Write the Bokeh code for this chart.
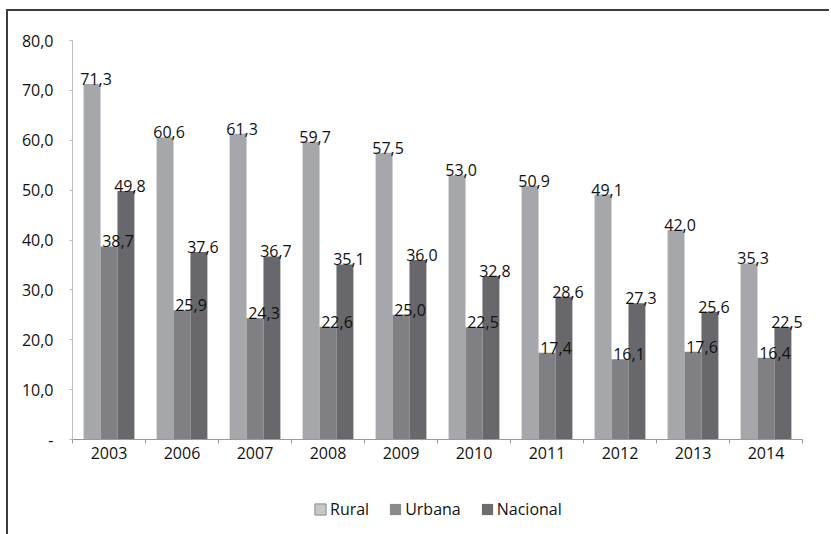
from bokeh.plotting import figure
from bokeh.layouts import column
from bokeh.models import ColumnDataSource, Range1d, FixedTicker, Legend, LegendItem
from bokeh.core.properties import value
from bokeh.embed import file_html
from bokeh.resources import INLINE

years = ["2003", "2006", "2007", "2008", "2009", "2010", "2011", "2012", "2013", "2014"]
rural = [71.3, 60.6, 61.3, 59.7, 57.5, 53.0, 50.9, 49.1, 42.0, 35.3]
urbana = [38.7, 25.9, 24.3, 22.6, 25.0, 22.5, 17.4, 16.1, 17.6, 16.4]
nacional = [49.8, 37.6, 36.7, 35.1, 36.0, 32.8, 28.6, 27.3, 25.6, 22.5]
y_ticks = [0, 10, 20, 30, 40, 50, 60, 70, 80]
y_tick_labels = ["-", "10,0", "20,0", "30,0", "40,0", "50,0", "60,0", "70,0", "80,0"]
series_names = ["Rural", "Urbana", "Nacional"]

FONT = "Open Sans"
FS = "16px"
W = 821

p = figure(width=W, height=469, output_backend="svg", toolbar_location=None,
           x_range=Range1d(0, len(years)), y_range=Range1d(0, 80),
           min_border_left=64, min_border_top=29, min_border_right=27, min_border_bottom=41)
p.outline_line_color = None
p.grid.visible = False

centers = [i + 0.5 for i in range(len(years))]
series = [(rural, "#a6a7aa", -0.232, 4),
          (urbana, "#808084", 0.0, 9),
          (nacional, "#68686c", 0.232, 4)]
for vals, color, off, xoff in series:
    src = ColumnDataSource(dict(x=[c + off for c in centers], top=vals))
    p.vbar(x="x", top="top", width=0.232, source=src, fill_color=color, line_color=None)
for vals, color, off, xoff in series:
    src = ColumnDataSource(dict(x=[c + off for c in centers], top=vals,
                                lab=[f"{v:.1f}".replace(".", ",") for v in vals]))
    p.text(x="x", y="top", text="lab", source=src, text_font=value(FONT),
           text_font_size=FS, text_color="#111111", text_align="center",
           text_baseline="bottom", x_offset=xoff, y_offset=1)

# y axis
ya = p.yaxis[0]
ya.ticker = FixedTicker(ticks=y_ticks)
ya.major_label_overrides = {t: l for t, l in zip(y_ticks, y_tick_labels)}
ya.axis_line_color = "#bdbdbd"
ya.major_tick_line_color = "#bdbdbd"
ya.major_tick_out = 3
ya.major_tick_in = 0
ya.minor_tick_out = 0
ya.minor_tick_in = 0
ya.major_label_standoff = 16
ya.major_label_text_font = FONT
ya.major_label_text_font_size = FS
ya.major_label_text_color = "#111111"

# x axis
xa = p.xaxis[0]
xa.ticker = FixedTicker(ticks=centers, minor_ticks=list(range(len(years) + 1)))
xa.major_label_overrides = {c: y for c, y in zip(centers, years)}
xa.axis_line_color = "#9a9a9a"
xa.major_tick_out = 0
xa.major_tick_in = 0
xa.minor_tick_out = 4
xa.minor_tick_in = 0
xa.minor_tick_line_color = "#9a9a9a"
xa.major_label_standoff = 3
xa.major_label_text_font = FONT
xa.major_label_text_font_size = FS
xa.major_label_text_color = "#111111"

# legend figure (swatch renderers are zero-width, invisible)
lf = figure(width=W, height=54, output_backend="svg", toolbar_location=None,
            min_border=0, min_border_left=0, min_border_right=0,
            min_border_top=0, min_border_bottom=0,
            x_axis_location=None, y_axis_location=None,
            x_range=Range1d(0, 1), y_range=Range1d(0, 1))
lf.grid.visible = False
lf.outline_line_color = None
swatch_styles = [("#c8c8c8", "#8a8a8a"), ("#8a8a8a", None), ("#6c6c6c", None)]
items = []
for name, (fc, lc) in zip(series_names, swatch_styles):
    r = lf.vbar(x=[0.5], top=[0.0], bottom=[0.0], width=0.0, fill_color=fc,
                line_color=lc, line_alpha=1.0 if lc else 0.0)
    items.append(LegendItem(label=name, renderers=[r]))
legend = Legend(items=items, location=(241, 14), orientation="horizontal",
                glyph_width=14, glyph_height=14, label_height=14,
                label_standoff=3, spacing=19, padding=0, margin=0,
                border_line_color=None, background_fill_alpha=0,
                label_text_font=FONT, label_text_font_size=FS,
                label_text_color="#111111")
lf.add_layout(legend, "center")

layout = column(p, lf, spacing=0)
layout.styles = {"border-top": "2px solid #3c3c3c", "border-left": "2px solid #3c3c3c",
                 "margin-left": "6px", "margin-top": "9px"}

open("out.html", "w").write(file_html(layout, INLINE))
